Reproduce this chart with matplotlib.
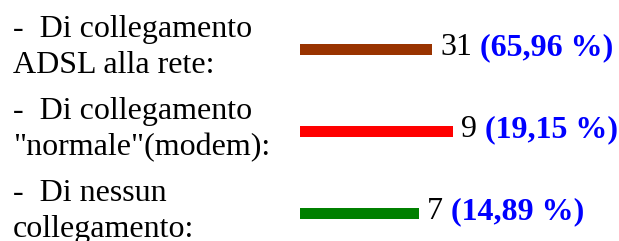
import matplotlib.pyplot as plt

# Values
labels = [
    ("-  Di collegamento", "ADSL alla rete:"),
    ("-  Di collegamento", "\"normale\"(modem):"),
    ("-  Di nessun", "collegamento:"),
]
counts = [31, 9, 7]
bar_len = [132, 153, 119]
colors = ["#993300", "#ff0000", "#008000"]

total = sum(counts)
pcts = [100 * c / total for c in counts]

plt.rcParams["font.family"] = ["Liberation Serif", "DejaVu Serif"]
FS = 23

fig = plt.figure(figsize=(6.19, 2.41), dpi=100)
ax = fig.add_axes([0, 0, 1, 1])
ax.set_xlim(0, 619)
pitch = 82.0
ax.set_ylim(2 + (241 - 213.5) / pitch, -49.5 / pitch)
ax.axis("off")

ypos = list(range(len(counts)))
ax.barh(ypos, bar_len, left=300, height=11 / pitch, color=colors)

for y, (l1, l2), n, w, p in zip(ypos, labels, counts, bar_len, pcts):
    ax.text(13, y - 12 / pitch, l1, fontsize=FS, va="baseline", ha="left")
    ax.text(13, y + 24 / pitch, l2, fontsize=FS, va="baseline", ha="left")
    t = ax.text(300 + w + 8, y + 5.5 / pitch, str(n), fontsize=FS,
                va="baseline", ha="left")
    pct = ("%.2f" % p).replace(".", ",")
    ax.annotate(" (%s %%)" % pct, xy=(1, 0), xycoords=t, fontsize=FS,
                fontweight="bold", color="#0000ff", va="bottom", ha="left")

fig.savefig("out.png", dpi=100)
